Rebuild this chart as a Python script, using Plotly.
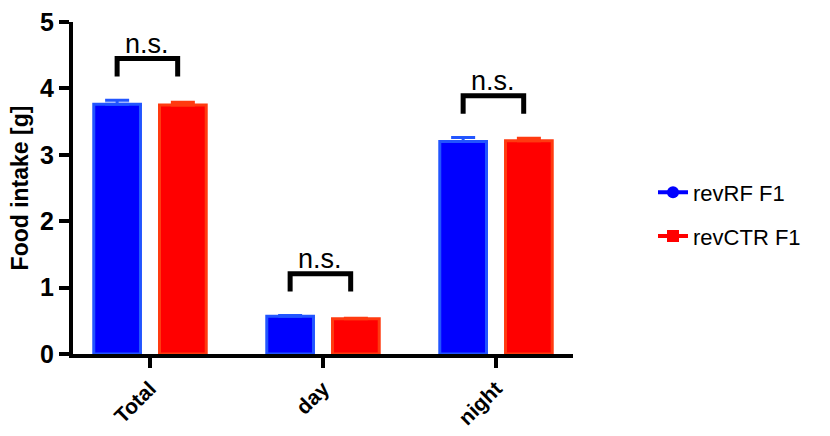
import plotly.graph_objects as go

categories = ["Total", "day", "night"]
rf_mean = [3.76, 0.57, 3.20]
rf_sem = [0.06, 0.01, 0.06]
ctr_mean = [3.75, 0.53, 3.21]
ctr_sem = [0.04, 0.01, 0.04]
labels = ["n.s.", "n.s.", "n.s."]

FONT = "Arial, Liberation Sans, sans-serif"
BLUE, BLUE_EDGE = "#0000ff", "#2255ff"
RED, RED_EDGE = "#ff0000", "#ff3a10"

fig = go.Figure()
xs = list(range(len(categories)))

fig.add_trace(go.Bar(
    x=xs, y=rf_mean, width=0.27, offset=-0.325, showlegend=False,
    marker=dict(color=BLUE, line=dict(color=BLUE_EDGE, width=3)),
    error_y=dict(type="data", array=rf_sem, arrayminus=[0] * 3, symmetric=False,
                 color=BLUE_EDGE, thickness=3, width=12)))
fig.add_trace(go.Bar(
    x=xs, y=ctr_mean, width=0.27, offset=0.055, showlegend=False,
    marker=dict(color=RED, line=dict(color=RED_EDGE, width=3)),
    error_y=dict(type="data", array=ctr_sem, arrayminus=[0] * 3, symmetric=False,
                 color=RED_EDGE, thickness=3, width=12)))

# legend entries (line + marker)
fig.add_trace(go.Scatter(x=[None], y=[None], mode="lines+markers", name="revRF F1",
                         legendgroup="a",
                         line=dict(color=BLUE, width=4),
                         marker=dict(symbol="circle", size=12, color=BLUE)))
fig.add_trace(go.Scatter(x=[None], y=[None], mode="lines+markers", name="revCTR F1",
                         legendgroup="b",
                         line=dict(color=RED, width=4),
                         marker=dict(symbol="square", size=12, color=RED)))

# significance brackets
for i, lab in enumerate(labels):
    top = max(rf_mean[i] + rf_sem[i], ctr_mean[i] + ctr_sem[i])
    leg = top + 0.36
    bar = leg + 0.27
    x0, x1 = i - 0.19, i + 0.16
    fig.add_shape(type="path",
                  path=f"M {x0},{leg} L {x0},{bar} L {x1},{bar} L {x1},{leg}",
                  line=dict(color="black", width=5))
    fig.add_annotation(x=(x0 + x1) / 2, y=bar, text=lab, showarrow=False,
                       yanchor="bottom", yshift=-2,
                       font=dict(family=FONT, size=27, color="black"))

fig.update_layout(
    width=830, height=436,
    margin=dict(l=73, r=257, t=22, b=82),
    plot_bgcolor="white", paper_bgcolor="white",
    barmode="overlay",
    font=dict(family=FONT, color="black"),
    legend=dict(x=1.16, y=0.42, xanchor="left", yanchor="middle",
                font=dict(size=22), tracegroupgap=12, bgcolor="rgba(0,0,0,0)"),
)
fig.update_xaxes(
    range=[-0.445, 2.445], tickmode="array", tickvals=xs, ticktext=categories,
    tickangle=-45, tickfont=dict(family=FONT, size=21, weight="bold"),
    automargin=False,
    showgrid=False, zeroline=False, showline=True, linecolor="black", linewidth=4,
    ticks="outside", ticklen=10, tickwidth=4, tickcolor="black")
fig.update_yaxes(
    range=[0, 5], tickvals=[0, 1, 2, 3, 4, 5],
    tickfont=dict(family=FONT, size=25, weight="bold"),
    title=dict(text="Food intake [g]", font=dict(family=FONT, size=23, weight="bold"),
               standoff=6),
    automargin=False,
    showgrid=False, zeroline=False, showline=True, linecolor="black", linewidth=4,
    ticks="outside", ticklen=10, tickwidth=4, tickcolor="black")

# drop the default page margin so the figure sits at the window origin
fig.write_html("out.html", config={"displayModeBar": False},
               post_script="document.body.style.margin='0';")
